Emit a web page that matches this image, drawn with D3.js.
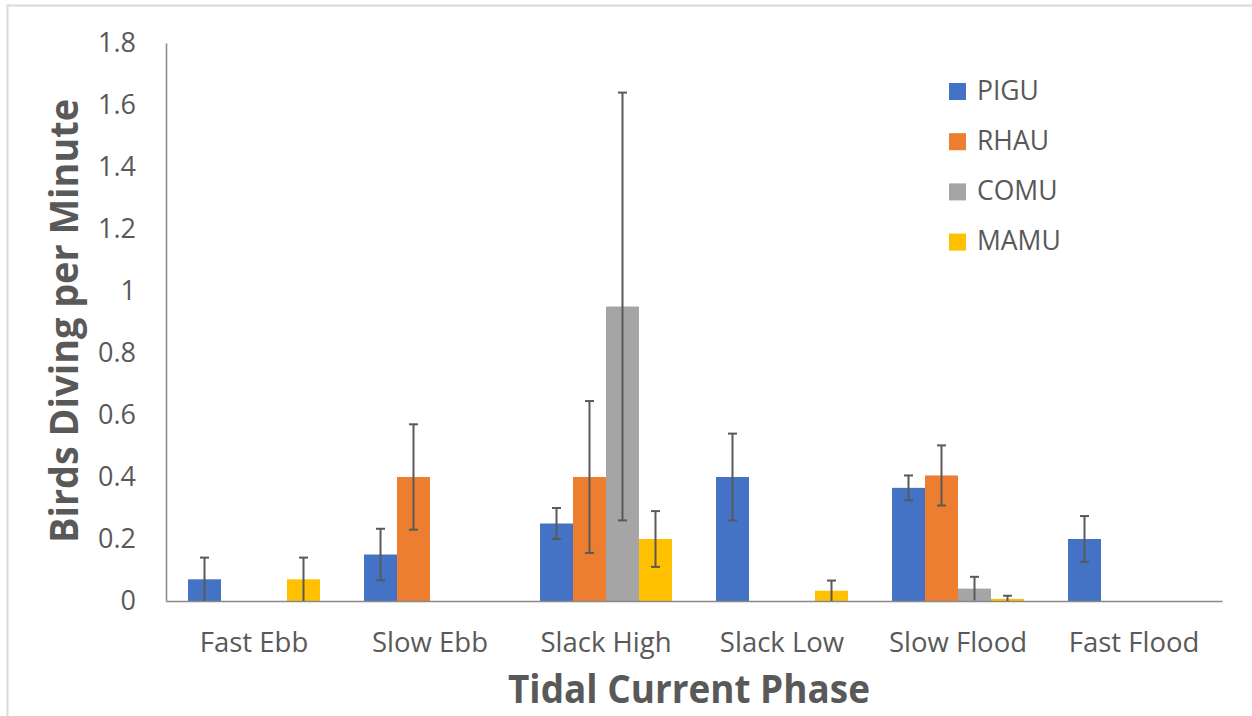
<!DOCTYPE html>
<html>
<head>
<meta charset="utf-8">
<script src="https://cdn.jsdelivr.net/npm/d3@7"></script>
<style>
  html, body { margin: 0; padding: 0; background: #fff; }
  svg { display: block; }
</style>
</head>
<body>
<script>
const categories = ["Fast Ebb", "Slow Ebb", "Slack High", "Slack Low", "Slow Flood", "Fast Flood"];
const seriesNames = ["PIGU", "RHAU", "COMU", "MAMU"];
const seriesColors = ["#4472C4", "#ED7D31", "#A5A5A5", "#FFC000"];
const PIGU = [0.07, 0.15, 0.25, 0.40, 0.365, 0.20];
const PIGU_err = [0.07, 0.083, 0.05, 0.14, 0.04, 0.074];
const RHAU = [null, 0.40, 0.40, null, 0.405, null];
const RHAU_err = [null, 0.17, 0.245, null, 0.097, null];
const COMU = [null, null, 0.95, null, 0.04, null];
const COMU_err = [null, null, 0.69, null, 0.038, null];
const MAMU = [0.07, null, 0.20, 0.033, 0.007, null];
const MAMU_err = [0.07, null, 0.09, 0.033, 0.01, null];
const yTicks = [0, 0.2, 0.4, 0.6, 0.8, 1, 1.2, 1.4, 1.6, 1.8];
const xTitle = "Tidal Current Phase";
const yTitle = "Birds Diving per Minute";

const values = [PIGU, RHAU, COMU, MAMU];
const errors = [PIGU_err, RHAU_err, COMU_err, MAMU_err];

const W = 1252, H = 716;
const plotLeft = 166, plotRight = 1222, plotTop = 43, plotBottom = 601;
const textColor = "#595959";
const font = "'Open Sans', sans-serif";

const svg = d3.select("body").append("svg").attr("width", W).attr("height", H);

// outer chart border
svg.append("rect").attr("x", 7.5).attr("y", 5.5).attr("width", 1400).attr("height", 900)
  .attr("fill", "#fff").attr("stroke", "#d9d9d9").attr("stroke-width", 2);

const x0 = d3.scaleBand().domain(categories).range([plotLeft, plotRight]).padding(0);
const x1 = d3.scaleBand().domain(seriesNames).range([0, x0.bandwidth()]).paddingInner(0).paddingOuter(0.6667);
const y = d3.scaleLinear().domain([0, 1.8]).range([plotBottom, plotTop]);

const bars = [];
seriesNames.forEach((s, si) => {
  categories.forEach((c, ci) => {
    const v = values[si][ci];
    if (v === null || v === undefined) return;
    bars.push({ s, si, c, v, e: errors[si][ci] });
  });
});

const g = svg.append("g");
g.selectAll("rect.bar").data(bars).join("rect")
  .attr("class", "bar")
  .attr("x", d => x0(d.c) + x1(d.s))
  .attr("y", d => y(d.v))
  .attr("width", x1.bandwidth())
  .attr("height", d => y(0) - y(d.v))
  .attr("fill", d => seriesColors[d.si]);

// axes
const yAxis = d3.axisLeft(y).tickValues(yTicks).tickSize(0).tickPadding(30)
  .tickFormat(d => String(+d.toFixed(1)));
const ya = svg.append("g").attr("transform", `translate(${plotLeft},0)`).call(yAxis);
ya.select(".domain").attr("stroke", "#898989").attr("stroke-width", 1.5);
ya.selectAll("text").attr("font-family", font).attr("font-size", 27).attr("fill", textColor);

const xAxis = d3.axisBottom(x0).tickSize(0).tickPadding(31);
const xa = svg.append("g").attr("transform", `translate(0,${plotBottom})`).call(xAxis);
xa.select(".domain").attr("stroke", "#898989").attr("stroke-width", 1.5);
xa.selectAll("text").attr("font-family", font).attr("font-size", 27.5).attr("fill", textColor);

// error bars
const eb = svg.append("g").attr("stroke", "#595959").attr("stroke-width", 2);
bars.filter(d => d.e != null).forEach(d => {
  const cx = x0(d.c) + x1(d.s) + x1.bandwidth() / 2;
  const hi = d.v + d.e;
  const loRaw = d.v - d.e;
  const lo = Math.max(0, loRaw);
  eb.append("line").attr("x1", cx).attr("x2", cx).attr("y1", y(hi)).attr("y2", y(lo));
  eb.append("line").attr("x1", cx - 4.5).attr("x2", cx + 4.5).attr("y1", y(hi)).attr("y2", y(hi));
  if (loRaw > 0.004) {
    eb.append("line").attr("x1", cx - 4.5).attr("x2", cx + 4.5).attr("y1", y(lo)).attr("y2", y(lo));
  }
});

// legend
const legend = svg.append("g").attr("transform", "translate(949,83)");
seriesNames.forEach((s, i) => {
  const row = legend.append("g").attr("transform", `translate(0,${i * 50.2})`);
  row.append("rect").attr("width", 17).attr("height", 17).attr("fill", seriesColors[i]);
  row.append("text").attr("x", 28).attr("y", 16.5).text(s)
    .attr("font-family", font).attr("font-size", 26.5).attr("fill", textColor);
});

// axis titles
svg.append("text").attr("x", 689).attr("y", 703).attr("text-anchor", "middle")
  .attr("font-family", font).attr("font-weight", 700).attr("font-size", 39)
  .attr("fill", textColor).attr("textLength", 362).attr("lengthAdjust", "spacingAndGlyphs")
  .text(xTitle);

svg.append("text").attr("transform", "translate(78,321) rotate(-90)").attr("text-anchor", "middle")
  .attr("font-family", font).attr("font-weight", 700).attr("font-size", 39)
  .attr("fill", textColor).attr("textLength", 444).attr("lengthAdjust", "spacingAndGlyphs")
  .text(yTitle);
</script>
</body>
</html>
